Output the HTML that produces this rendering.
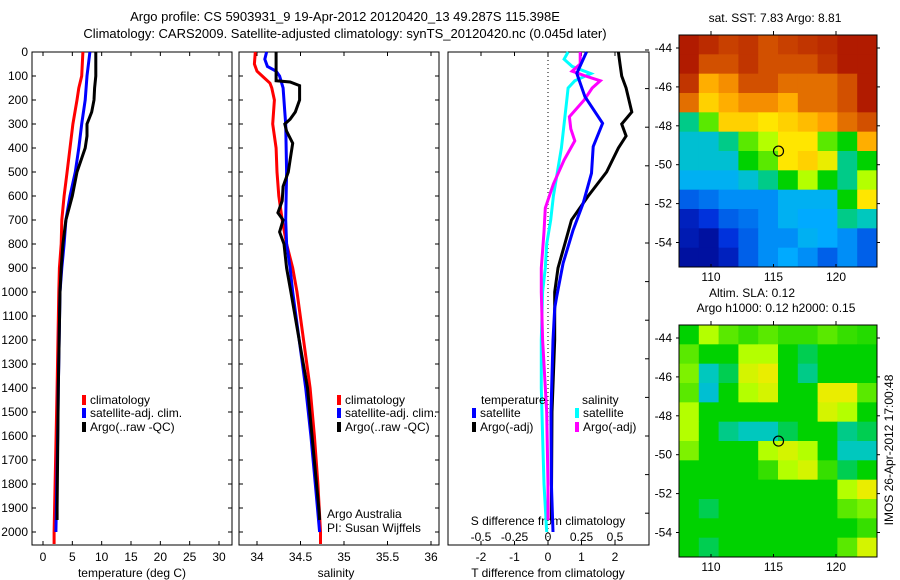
<!DOCTYPE html>
<html><head><meta charset="utf-8"><style>
body{margin:0;background:#fff;}
svg{display:block;font-family:"Liberation Sans",sans-serif;font-size:12px;}
</style></head><body>
<svg id="c" width="900" height="580">
<text x="345" y="21" text-anchor="middle" font-size="13">Argo profile: CS 5903931_9 19-Apr-2012 20120420_13 49.287S 115.398E</text>
<text x="345" y="38" text-anchor="middle" font-size="13">Climatology: CARS2009. Satellite-adjusted climatology: synTS_20120420.nc (0.045d later)</text>
</svg>
<script>
// ---- profile data ----
const tClimD=[0,100,150,200,300,400,500,600,700,800,900,1000,1400,2000,2050];
const tClim=[6.8,6.6,6.1,5.8,5.1,4.6,4.1,3.6,3.2,3.1,2.8,2.7,2.4,1.9,1.9];
const tSatD=[0,100,200,300,400,500,600,700,800,900,1000,1400,1600,2000];
const tSat=[8.0,7.5,7.2,6.6,6.1,5.5,4.6,3.9,3.6,3.2,2.9,2.6,2.5,2.2];
const tArgoD=[0,100,150,200,250,300,350,400,500,600,700,800,900,1000,1400,1900,1950];
const tArgo=[9.0,9.0,8.8,8.7,8.3,7.5,7.5,7.2,5.8,5.0,3.9,3.4,3.1,2.9,2.6,2.4,2.4];
const sClimD=[0,50,80,100,130,150,200,300,400,500,600,700,800,900,1000,1400,1600,1800,2000,2050];
const sClim=[33.98,33.97,34.0,34.06,34.15,34.17,34.2,34.18,34.22,34.23,34.25,34.29,34.34,34.41,34.46,34.61,34.66,34.7,34.73,34.73];
const sSatD=[0,30,60,80,100,150,250,300,500,700,800,900,1000,1400,1600,1800,2000];
const sSat=[34.11,34.09,34.12,34.22,34.26,34.3,34.32,34.33,34.34,34.33,34.34,34.38,34.41,34.56,34.62,34.67,34.72];
const sArgoD=[0,100,120,125,140,200,250,280,300,330,380,450,500,560,620,670,700,750,800,900,1000,1400,1900,1950];
const sArgo=[34.22,34.22,34.22,34.38,34.49,34.49,34.44,34.38,34.32,34.34,34.41,34.38,34.36,34.3,34.29,34.24,34.3,34.26,34.31,34.34,34.39,34.58,34.71,34.72];
const dTSatD=[0,89,186,297,394,505,630,742,880,1019,1068,1200,1500,1800,2000];
const dTSat=[1.15,0.86,1.1,1.63,1.35,1.3,1.05,0.75,0.45,0.26,0.2,0.15,0.09,0.1,0.15];
const dTArgoD=[0,50,100,150,250,300,350,400,500,600,700,800,900,1000,1200,1500,1900,1950];
const dTArgo=[2.1,2.15,2.2,2.33,2.5,2.2,2.33,2.1,1.75,1.2,0.7,0.5,0.3,0.2,0.2,0.12,0.1,0.1];
const dSArgoD=[0,50,80,100,120,150,200,270,320,370,450,550,650,750,900,1000,1200,1500,1800,1950];
const dSArgo=[0.24,0.24,0.18,0.28,0.39,0.33,0.27,0.16,0.17,0.2,0.12,0.04,-0.02,-0.03,-0.05,-0.05,-0.04,-0.01,0,0];
const dSSatD=[0,30,60,90,120,150,200,300,400,500,600,700,800,900,1000,1200,1400,1600,1800,2000];
const dSSat=[0.15,0.12,0.18,0.32,0.2,0.15,0.14,0.12,0.1,0.07,0.04,0.02,-0.01,-0.02,-0.04,-0.05,-0.05,-0.04,-0.03,-0.01];
const depthTicks=[0,100,200,300,400,500,600,700,800,900,1000,1100,1200,1300,1400,1500,1600,1700,1800,1900,2000];
const tTicks=[0,5,10,15,20,25,30];
const sTicks=[34,34.5,35,35.5,36];
const sTickLbl=["34","34.5","35","35.5","36"];
const dTTicks=[-2,-1,0,1,2];
const dSTicks=[-0.5,-0.25,0,0.25,0.5];
const dSTickLbl=["-0.5","-0.25","0","0.25","0.5"];
// ---- map data (colour index 0..1), rows north->south ----
const sstGrid=[
[0.95,0.92,0.88,0.9,0.85,0.88,0.9,0.92,0.95,0.95],
[0.95,0.85,0.85,0.9,0.85,0.85,0.85,0.9,0.95,0.95],
[0.9,0.7,0.75,0.85,0.85,0.8,0.8,0.8,0.85,0.95],
[0.8,0.65,0.7,0.75,0.75,0.7,0.8,0.8,0.85,0.95],
[0.4,0.5,0.65,0.65,0.62,0.65,0.68,0.72,0.8,0.85],
[0.35,0.35,0.4,0.5,0.55,0.62,0.62,0.5,0.45,0.7],
[0.35,0.35,0.35,0.45,0.5,0.62,0.65,0.6,0.4,0.45],
[0.3,0.3,0.3,0.35,0.4,0.45,0.55,0.45,0.4,0.55],
[0.2,0.22,0.25,0.25,0.25,0.3,0.3,0.3,0.45,0.62],
[0.1,0.15,0.2,0.22,0.25,0.3,0.28,0.28,0.4,0.38],
[0.08,0.05,0.15,0.2,0.25,0.25,0.3,0.28,0.25,0.2],
[0.05,0.05,0.1,0.2,0.25,0.28,0.25,0.2,0.25,0.2]];
const slaGrid=[
[0.45,0.55,0.5,0.48,0.5,0.48,0.48,0.5,0.48,0.47],
[0.5,0.45,0.45,0.55,0.55,0.45,0.42,0.45,0.45,0.45],
[0.52,0.38,0.42,0.58,0.6,0.45,0.4,0.45,0.45,0.45],
[0.5,0.35,0.45,0.55,0.58,0.45,0.45,0.6,0.6,0.5],
[0.55,0.45,0.45,0.45,0.45,0.45,0.45,0.58,0.55,0.45],
[0.55,0.45,0.4,0.38,0.38,0.42,0.45,0.45,0.4,0.42],
[0.52,0.45,0.45,0.45,0.55,0.58,0.55,0.45,0.38,0.38],
[0.45,0.45,0.45,0.45,0.48,0.55,0.58,0.48,0.42,0.45],
[0.45,0.45,0.45,0.45,0.45,0.45,0.45,0.45,0.55,0.6],
[0.45,0.42,0.45,0.45,0.45,0.45,0.45,0.45,0.5,0.52],
[0.45,0.45,0.45,0.45,0.45,0.45,0.45,0.45,0.45,0.48],
[0.45,0.42,0.45,0.45,0.45,0.45,0.45,0.45,0.5,0.58]];
const lonTicks=[110,115,120];
const latTicks=[-44,-46,-48,-50,-52,-54];
const argoLon=115.4, argoLat=-49.3;

const svg=document.getElementById('c');
const NS='http://www.w3.org/2000/svg';
function mk(tag,attrs,parent){const e=document.createElementNS(NS,tag);for(const k in attrs)e.setAttribute(k,attrs[k]);(parent||svg).appendChild(e);return e;}
function txt(x,y,s,anchor,parent){const t=mk('text',{x:x,y:y,'text-anchor':anchor||'start'},parent);t.textContent=s;return t;}
const yD=d=>52+d*0.24;
const PT=52, PB=545;

function panel(name,x0,x1){
  const g=mk('g',{});
  
  
  mk('rect',{x:x0,y:PT,width:x1-x0,height:PB-PT,fill:'none',stroke:'#000','stroke-width':1},g);
  return g;
}
function line(g,xs,ds,fx,col,nm){
  const pts=xs.map((v,i)=>fx(v).toFixed(1)+','+yD(ds[i]).toFixed(1)).join(' ');
  const p=mk('polyline',{points:pts,fill:'none',stroke:col,'stroke-width':3,'stroke-linejoin':'miter'},g);
  
  
}
function depthTicksOn(g,x0,x1,labels){
  depthTicks.forEach(d=>{const y=yD(d);
    mk('line',{x1:x0,y1:y,x2:x0+4,y2:y,stroke:'#000'},g);
    mk('line',{x1:x1,y1:y,x2:x1-4,y2:y,stroke:'#000'},g);
    if(labels){const t=txt(28,y+4,String(d),'end',g);}
  });
}
function legendRow(g,x,y,col,label){
  mk('rect',{x:x,y:y-9,width:4,height:10,fill:col},g);
  const t=txt(x+8,y,label,'start',g);
  
  
}
// Panel 1 temperature
const fT=v=>43+v*5.867;
const g1=panel('temperature-panel',32,232);
depthTicksOn(g1,32,232,true);
tTicks.forEach(v=>{const x=fT(v);mk('line',{x1:x,y1:PB,x2:x,y2:PB-4,stroke:'#000'},g1);mk('line',{x1:x,y1:PT,x2:x,y2:PT+4,stroke:'#000'},g1);txt(x,561,String(v),'middle',g1);});
const xt1=txt(132,577,'temperature (deg C)','middle',g1);
line(g1,tClim,tClimD,fT,'#f00','temp-climatology-line');
line(g1,tSat,tSatD,fT,'#00f','temp-satellite-line');
line(g1,tArgo,tArgoD,fT,'#000','temp-argo-line');
legendRow(g1,82,404,'#f00','climatology');
legendRow(g1,82,417,'#00f','satellite-adj. clim.');
legendRow(g1,82,431,'#000','Argo(..raw -QC)');
// Panel 2 salinity
const fS=v=>257+(v-34)*87;
const g2=panel('salinity-panel',239,439);
depthTicksOn(g2,239,439,false);
sTicks.forEach((v,i)=>{const x=fS(v);mk('line',{x1:x,y1:PB,x2:x,y2:PB-4,stroke:'#000'},g2);mk('line',{x1:x,y1:PT,x2:x,y2:PT+4,stroke:'#000'},g2);txt(x,561,sTickLbl[i],'middle',g2);});
const xt2=txt(336,577,'salinity','middle',g2);
line(g2,sClim,sClimD,fS,'#f00','sal-climatology-line');
line(g2,sSat,sSatD,fS,'#00f','sal-satellite-line');
line(g2,sArgo,sArgoD,fS,'#000','sal-argo-line');
legendRow(g2,337,404,'#f00','climatology');
legendRow(g2,337,417,'#00f','satellite-adj. clim.');
legendRow(g2,337,431,'#000','Argo(..raw -QC)');
txt(327,518,'Argo Australia','start',g2);
txt(327,532,'PI: Susan Wijffels','start',g2);
// Panel 3 differences
const fDT=v=>548+v*33.5;
const fDS=v=>548+v*134;
const g3=panel('difference-panel',448,649);
mk('line',{x1:548,y1:PT,x2:548,y2:PB,stroke:'#000','stroke-dasharray':'1,3'},g3);
dTTicks.forEach(v=>{const x=fDT(v);mk('line',{x1:x,y1:PB,x2:x,y2:PB-4,stroke:'#000'},g3);mk('line',{x1:x,y1:PT,x2:x,y2:PT+4,stroke:'#000'},g3);txt(x,561,String(v),'middle',g3);});
for(let y=50;y<PB;y+=38.6){mk('line',{x1:649,y1:y,x2:645,y2:y,stroke:'#000'},g3);}
dSTicks.forEach((v,i)=>{txt(fDS(v),541,dSTickLbl[i],'middle',g3);});
txt(548,525,'S difference from climatology','middle',g3);
const xt3=txt(548,577,'T difference from climatology','middle',g3);
line(g3,dSSat,dSSatD,fDS,'#0ff','sal-satellite-diff-line');
line(g3,dSArgo,dSArgoD,fDS,'#f0f','sal-argo-diff-line');
line(g3,dTArgo,dTArgoD,fDT,'#000','temp-argo-diff-line');
line(g3,dTSat,dTSatD,fDT,'#00f','temp-satellite-diff-line');
txt(481,404,'temperature','start',g3);
legendRow(g3,472,417,'#00f','satellite');
legendRow(g3,472,431,'#000','Argo(-adj)');
txt(582,404,'salinity','start',g3);
legendRow(g3,575,417,'#0ff','satellite');
legendRow(g3,575,431,'#f0f','Argo(-adj)');

// colormap (approximating reference palette)
const cmStops=[[0,[0,0,130]],[0.15,[0,50,220]],[0.28,[0,170,255]],[0.38,[0,200,190]],[0.45,[0,210,0]],[0.55,[180,255,0]],[0.62,[255,230,0]],[0.72,[255,160,0]],[0.85,[210,80,0]],[1,[160,0,0]]];
function cmap(v){v=Math.max(0,Math.min(1,v));
  for(let i=1;i<cmStops.length;i++){if(v<=cmStops[i][0]){const a=cmStops[i-1],b=cmStops[i];const t=(v-a[0])/(b[0]-a[0]);
    return 'rgb('+a[1].map((c,k)=>Math.round(c+(b[1][k]-c)*t)).join(',')+')';}}
  return 'rgb(160,0,0)';}
function map(name,grid,top,lat44y,title1,title2){
  const x0=679,x1=877,y1=top+232;
  const g=mk('g',{});
  
  
  const fx=lon=>711+(lon-110)*12.5;
  const fy=lat=>lat44y+(-44-lat)*19.45;
  const rows=grid.length,cols=grid[0].length,cw=(x1-x0)/cols,ch=(y1-top)/rows;
  grid.forEach((row,r)=>row.forEach((v,c)=>{
    const cell=mk('rect',{x:(x0+c*cw).toFixed(2),y:(top+r*ch).toFixed(2),width:(cw+0.5).toFixed(2),height:(ch+0.5).toFixed(2),fill:cmap(v)},g);
    
    
  }));
  mk('rect',{x:x0,y:top,width:x1-x0,height:y1-top,fill:'none',stroke:'#000'},g);
  lonTicks.forEach(l=>{const x=fx(l);mk('line',{x1:x,y1:top,x2:x,y2:top-4,stroke:'#000'},g);mk('line',{x1:x,y1:y1,x2:x,y2:y1-3,stroke:'#000'},g);txt(x,y1+14,String(l),'middle',g);});
  latTicks.forEach(l=>{const y=fy(l);mk('line',{x1:x0,y1:y,x2:x0-3,y2:y,stroke:'#000'},g);mk('line',{x1:x1,y1:y,x2:x1+3,y2:y,stroke:'#000'},g);txt(672,y+4,String(l),'end',g);});
  const m=mk('circle',{cx:fx(argoLon),cy:fy(argoLat),r:5,fill:'none',stroke:'#000','stroke-width':1.2},g);
  
  
  if(title2){txt(752,top-28,title1,'middle',g);txt(776,top-13,title2,'middle',g);}
  else txt(775,top-13,title1,'middle',g);
}
map('sst-map',sstGrid,35,48,'sat. SST: 7.83 Argo: 8.81');
map('sla-map',slaGrid,325,338,'Altim. SLA: 0.12','Argo h1000: 0.12 h2000: 0.15');
const v=txt(0,0,'IMOS 26-Apr-2012 17:00:48','middle');
v.setAttribute('transform','translate(893,450) rotate(-90)');


</script>
</body></html>
